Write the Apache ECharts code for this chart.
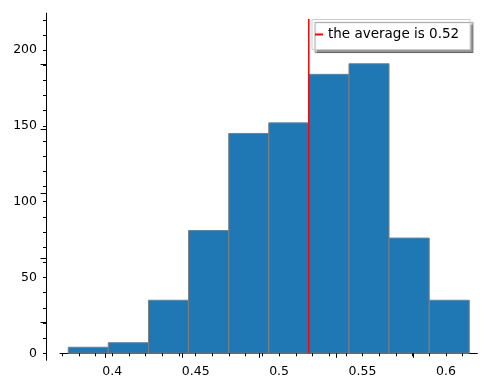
<!DOCTYPE html>
<html>
<head>
<meta charset="utf-8">
<script src="https://cdn.jsdelivr.net/npm/echarts@6/dist/echarts.min.js"></script>
<style>
  html, body { margin: 0; padding: 0; background: #fff; }
  #chart { width: 490px; height: 387px; }
</style>
</head>
<body>
<div id="chart"></div>
<script>
// histogram bins (edges) and counts
var binEdges = [0.3736, 0.3976, 0.4217, 0.4457, 0.4698, 0.4938, 0.5178, 0.5419, 0.5659, 0.5900, 0.6140];
var binCounts = [4, 7, 35, 81, 145, 152, 184, 191, 76, 35];
var averageX = 0.5178;
var averageTop = 220.5;
var avgName = 'the average is 0.52';
// tick labels
var xLabels = [0.4, 0.45, 0.5, 0.55, 0.6];
var yLabels = [0, 50, 100, 150, 200];

(function(){
    var W = 490, H = 387;
    // pixel mapping of the plot (0.4 -> x 112.3, 0 -> y 353.3)
    var X0 = 0.4, X0PX = 112.3, XS = 1668;
    var Y0PX = 353.3, YS = 1.516;
    function px(v) { return X0PX + (v - X0) * XS; }
    function py(v) { return Y0PX - v * YS; }

    var xMin = 0.36864, xMax = 0.61882;
    var yMin = -4.6, yMax = 224.4;
    var font = 'DejaVu Sans';

    var dom = document.getElementById('chart');
    var myChart = echarts.init(dom);

    var bars = [];
    for (var i = 0; i < binCounts.length; i++) {
        bars.push([binEdges[i], binEdges[i + 1], binCounts[i]]);
    }

    function renderBar(params, api) {
        var p0 = api.coord([api.value(0), api.value(2)]);
        var p1 = api.coord([api.value(1), 0]);
        return {
            type: 'rect',
            shape: { x: p0[0], y: p0[1], width: p1[0] - p0[0], height: p1[1] - p0[1] },
            style: { fill: '#1f77b4', stroke: '#7f7f7f', lineWidth: 1 }
        };
    }

    // grids that only carry tick marks, laid out on the same pixel mapping
    function xTickGrid(a, b) {
        return { left: px(a), right: W - px(b), top: 300, bottom: H - Y0PX };
    }
    function yTickGrid(a, b) {
        return { left: 46, right: 400, top: py(b), bottom: H - py(a) };
    }
    function hiddenAxis(type, grid) {
        return { type: type, gridIndex: grid, show: false, min: 0, max: 1 };
    }
    // majors of these axes sit on the ends only; the marks are minor ticks
    function tickAxis(grid, pos, a, b, split, len) {
        return {
            type: 'value', gridIndex: grid, min: a, max: b, interval: b - a,
            position: pos,
            z: 10,
            axisLine: { show: true, onZero: false, lineStyle: { color: 'rgba(0,0,0,0)' } },
            axisLabel: { show: false },
            axisTick: { show: false },
            splitLine: { show: false },
            minorTick: { show: true, splitNumber: split, length: len, lineStyle: { color: '#000', width: 1 } },
            minorSplitLine: { show: false }
        };
    }

    var option = {
        animation: false,
        backgroundColor: '#fff',
        grid: [
            { left: px(xMin), right: W - px(xMax), top: py(yMax), bottom: H - py(yMin) },
            xTickGrid(0.36, 0.62),
            xTickGrid(0.35, 0.65),
            yTickGrid(-10, 230),
            yTickGrid(-50, 250)
        ],
        xAxis: [
            {
                type: 'value',
                gridIndex: 0,
                min: xMin,
                max: xMax,
                axisLine: { show: true, onZero: true, lineStyle: { color: '#000', width: 1 } },
                axisTick: { show: false },
                axisLabel: {
                    customValues: xLabels,
                    margin: 5,
                    color: '#000',
                    fontFamily: font,
                    fontSize: 12.5,
                    formatter: function (v) { return String(+v.toFixed(2)); }
                },
                splitLine: { show: false }
            },
            tickAxis(1, 'bottom', 0.36, 0.62, 26, 3),
            tickAxis(2, 'bottom', 0.35, 0.65, 6, 4.5),
            hiddenAxis('value', 3),
            hiddenAxis('value', 4)
        ],
        yAxis: [
            {
                type: 'value',
                gridIndex: 0,
                min: yMin,
                max: yMax,
                offset: px(xMin) - 46,
                axisLine: { show: true, onZero: false, lineStyle: { color: '#000', width: 1 } },
                axisTick: { show: false },
                axisLabel: {
                    customValues: yLabels,
                    margin: 9,
                    color: '#000',
                    fontFamily: font,
                    fontSize: 12.5
                },
                splitLine: { show: false }
            },
            hiddenAxis('value', 1),
            hiddenAxis('value', 2),
            tickAxis(3, 'left', -10, 230, 24, 3),
            tickAxis(4, 'left', -50, 250, 6, 5.5)
        ],
        legend: {
            data: [{ name: avgName, icon: 'rect' }],
            left: 312,
            top: 19.5,
            padding: [8, 11, 8, 3],
            itemWidth: 8,
            itemHeight: 2,
            backgroundColor: '#fff',
            borderColor: '#cccccc',
            borderWidth: 1,
            borderRadius: 0,
            shadowColor: 'rgba(0,0,0,0.4)',
            shadowBlur: 1,
            shadowOffsetX: 3,
            shadowOffsetY: 3,
            textStyle: { color: '#000', fontFamily: font, fontSize: 13.5 }
        },
        series: [
            {
                type: 'custom',
                renderItem: renderBar,
                xAxisIndex: 0,
                yAxisIndex: 0,
                encode: { x: [0, 1], y: 2 },
                data: bars,
                silent: true
            },
            {
                name: avgName,
                type: 'line',
                xAxisIndex: 0,
                yAxisIndex: 0,
                symbol: 'none',
                data: [[averageX, 0], [averageX, averageTop]],
                lineStyle: { color: '#ff0000', width: 1.5 },
                itemStyle: { color: '#ff0000' },
                z: 5
            }
        ]
    };
    myChart.setOption(option);
})();
</script>
</body>
</html>
